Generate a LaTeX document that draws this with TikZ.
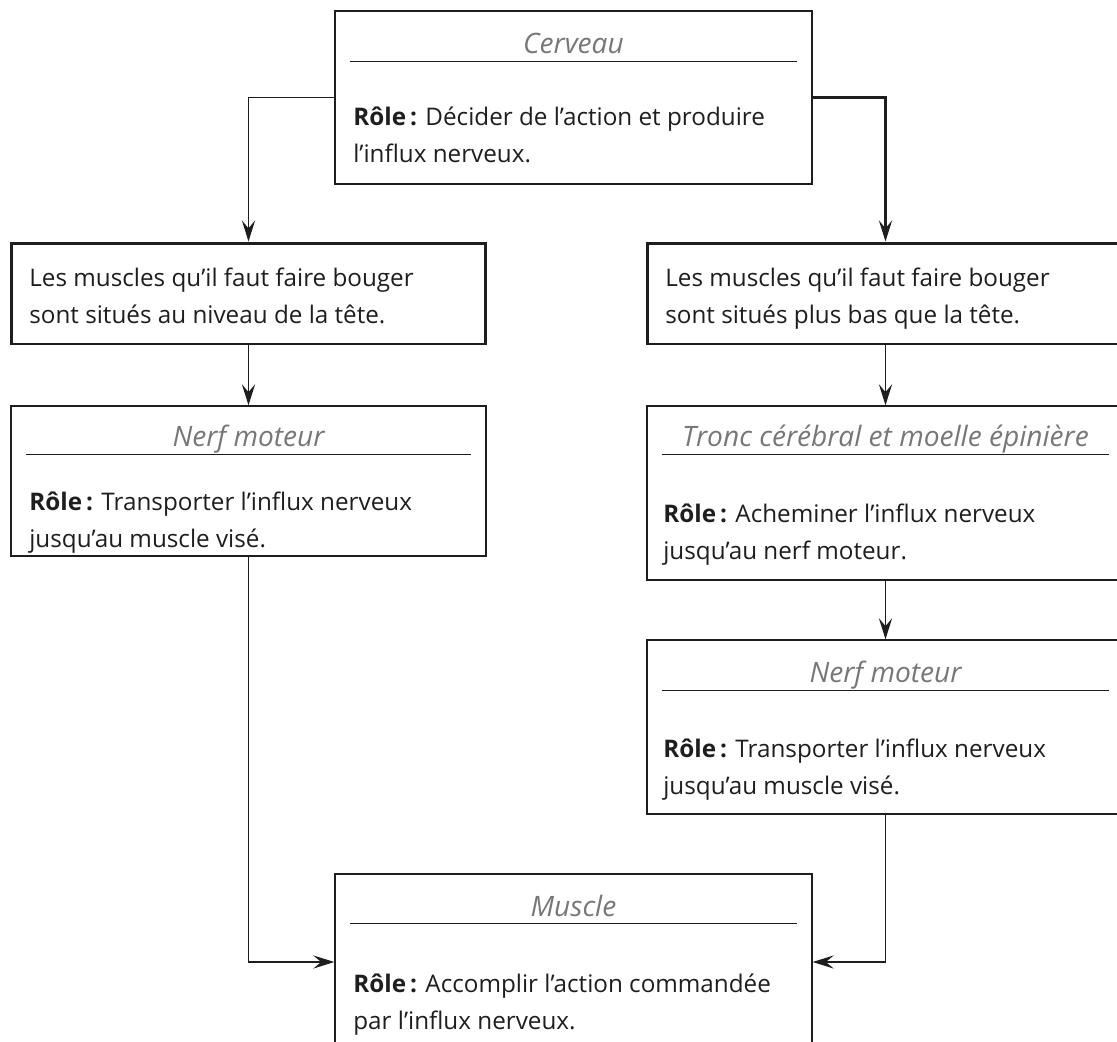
\documentclass[tikz,border=0pt]{standalone}
\usepackage{fontspec}
\setmainfont{Open Sans}
\usetikzlibrary{arrows.meta,calc}

\definecolor{trait}{HTML}{1E1E1E}
\definecolor{titregris}{HTML}{777777}

\tikzset{
  boite/.style={draw=trait, line width=0.8pt, rectangle, inner sep=0pt},
  boiteforte/.style={boite, line width=1.7pt},
  filet/.style={draw=trait, line width=0.7pt},
  titre/.style={anchor=base, inner sep=0pt, text=titregris, font=\fontsize{16}{19}\selectfont\itshape},
  corps/.style={anchor=north west, inner sep=0pt, align=left, text=trait, font=\fontsize{13.8}{21}\selectfont},
  fleche/.style={draw=trait, line width=0.9pt, -{Stealth[length=12pt, width=7.5pt, inset=4.5pt]}},
}

\begin{document}
\begin{tikzpicture}[x=0.02cm, y=-0.02cm]
        \useasboundingbox (0,0) rectangle (1117,1042);

        % Cerveau
        \node[boite, minimum width=9.54cm, minimum height=3.46cm] (cerveau) at (573.5, 97.5) {};
        \node[titre] (cerveauT) at (573.5, 53) {Cerveau};
        \draw[filet] ($(cerveau.north west)+(16,51)$) -- ($(cerveau.north east)+(-16,51)$);
        \node[corps] (cerveauR) at (353, 99) {\strut\textbf{Rôle\,:} Décider de l’action et produire\\l’influx nerveux.};

        % Muscles dans la tête / plus bas
        \node[boiteforte, minimum width=9.5cm, minimum height=2.02cm] (teteA) at (248.5, 293.5) {};
        \node[corps] (teteAT) at (29, 260) {\strut Les muscles qu’il faut faire bouger\\sont situés au niveau de la tête.};
        \node[boiteforte, minimum width=9.54cm, minimum height=2.02cm] (basB) at (885.5, 293.5) {};
        \node[corps] (basBT) at (665, 260) {\strut Les muscles qu’il faut faire bouger\\sont situés plus bas que la tête.};

        % Nerf moteur (gauche)
        \node[boite, minimum width=9.5cm, minimum height=3cm] (nerfA) at (248.5, 481) {};
        \node[titre] (nerfAT) at (248.5, 446) {Nerf moteur};
        \draw[filet] ($(nerfA.north west)+(16,49)$) -- ($(nerfA.north east)+(-16,49)$);
        \node[corps] (nerfAR) at (29, 484) {\strut\textbf{Rôle\,:} Transporter l’influx nerveux\\jusqu’au muscle visé.};

        % Tronc cérébral
        \node[boite, minimum width=9.54cm, minimum height=3.48cm] (tronc) at (885.5, 493) {};
        \node[titre] (troncT) at (885.5, 446) {Tronc cérébral et moelle épinière};
        \draw[filet] ($(tronc.north west)+(16,49)$) -- ($(tronc.north east)+(-16,49)$);
        \node[corps] (troncR) at (663, 496) {\strut\textbf{Rôle\,:} Acheminer l’influx nerveux\\jusqu’au nerf moteur.};

        % Nerf moteur (droite)
        \node[boite, minimum width=9.54cm, minimum height=3.48cm] (nerfB) at (885.5, 727) {};
        \node[titre] (nerfBT) at (885.5, 682) {Nerf moteur};
        \draw[filet] ($(nerfB.north west)+(16,51)$) -- ($(nerfB.north east)+(-16,51)$);
        \node[corps] (nerfBR) at (663, 731) {\strut\textbf{Rôle\,:} Transporter l’influx nerveux\\jusqu’au muscle visé.};

        % Muscle
        \node[boite, minimum width=9.54cm, minimum height=3.52cm] (muscle) at (573.5, 962) {};
        \node[titre] (muscleT) at (573.5, 916) {Muscle};
        \draw[filet] ($(muscle.north west)+(16,50)$) -- ($(muscle.north east)+(-16,50)$);
        \node[corps] (muscleR) at (353, 966) {\strut\textbf{Rôle\,:} Accomplir l’action commandée\\par l’influx nerveux.};

        % Fleches
        \draw[fleche] (cerveau.west) -| (teteA.north);
        \draw[fleche, line width=1.4pt] (cerveau.east) -| (basB.north);
        \draw[fleche, line width=1.1pt] (teteA.south) -- (nerfA.north);
        \draw[fleche, line width=1.1pt] (basB.south) -- (tronc.north);
        \draw[fleche] (tronc.south) -- (nerfB.north);
        \draw[fleche, line width=0.8pt] (nerfA.south) |- (muscle.west);
        \draw[fleche, line width=0.8pt] (nerfB.south) |- (muscle.east);

    \end{tikzpicture}
\end{document}
